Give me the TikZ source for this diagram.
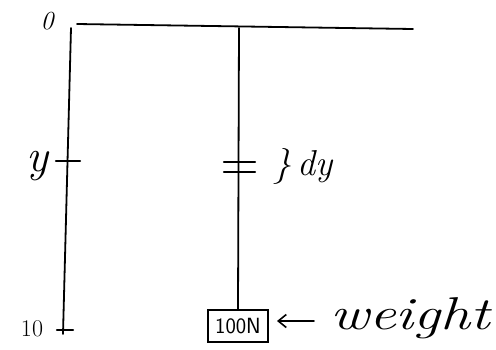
\documentclass[tikz,border=0pt]{standalone}
\usetikzlibrary{arrows.meta}
\tikzset{
  rod/.style={line width=1.8pt, line cap=round},
  tick/.style={line width=2.4pt, line cap=round},
  lbl/.style={inner sep=0pt},
  wbox/.style={draw, line width=1.4pt, minimum width=60pt, minimum height=32pt, inner sep=0pt, font=\sffamily\fontsize{22}{22}\selectfont}
}
\begin{document}
\begin{tikzpicture}[x=1pt,y=-1pt]
\useasboundingbox (0,0) rectangle (496,349);
% beam
\coordinate (beamL) at (77,24);
\coordinate (beamR) at (413,29);
\draw[rod] (beamL) -- (beamR);
% left axis
\coordinate (axTop) at (71,28);
\coordinate (axBot) at (63,334);
\draw[rod] (axTop) -- (axBot);
\coordinate (tyL) at (56,161);
\coordinate (tyR) at (80,161);
\draw[tick] (tyL) -- (tyR);
\coordinate (t10L) at (57,330);
\coordinate (t10R) at (73,330);
\draw[tick] (t10L) -- (t10R);
\node[lbl] (zero) at (47,21) {\fontsize{26}{26}\selectfont\itshape 0};
\node[lbl] (ten) at (32,329) {\fontsize{24}{24}\selectfont 10};
\node[lbl] (ylab) at (37,166) {\fontsize{46}{46}\selectfont\itshape y};
% hanging rope
\coordinate (ropeTop) at (239,28);
\node[wbox] (box) at (238,326) {100N};
\draw[rod] (ropeTop) -- (box.north);
\coordinate (d1L) at (224,162);
\coordinate (d1R) at (255,162);
\coordinate (d2L) at (224,172);
\coordinate (d2R) at (255,172);
\draw[tick] (d1L) -- (d1R);
\draw[tick] (d2L) -- (d2R);
\node[lbl, anchor=west] (dy) at (273,166) {\fontsize{36}{36}\selectfont\itshape \}\,dy};
% weight label
\node[lbl, anchor=west] (weight) at (330,318) {\scalebox{1.3}[1]{\fontsize{46}{46}\selectfont\itshape weight}};
\coordinate (wa) at (314,321);
\coordinate (wb) at (277,321);
\draw[line width=1.6pt, line cap=round, -{Straight Barb[length=8pt,width=13pt]}] (wa) -- (wb);
\end{tikzpicture}
\end{document}
